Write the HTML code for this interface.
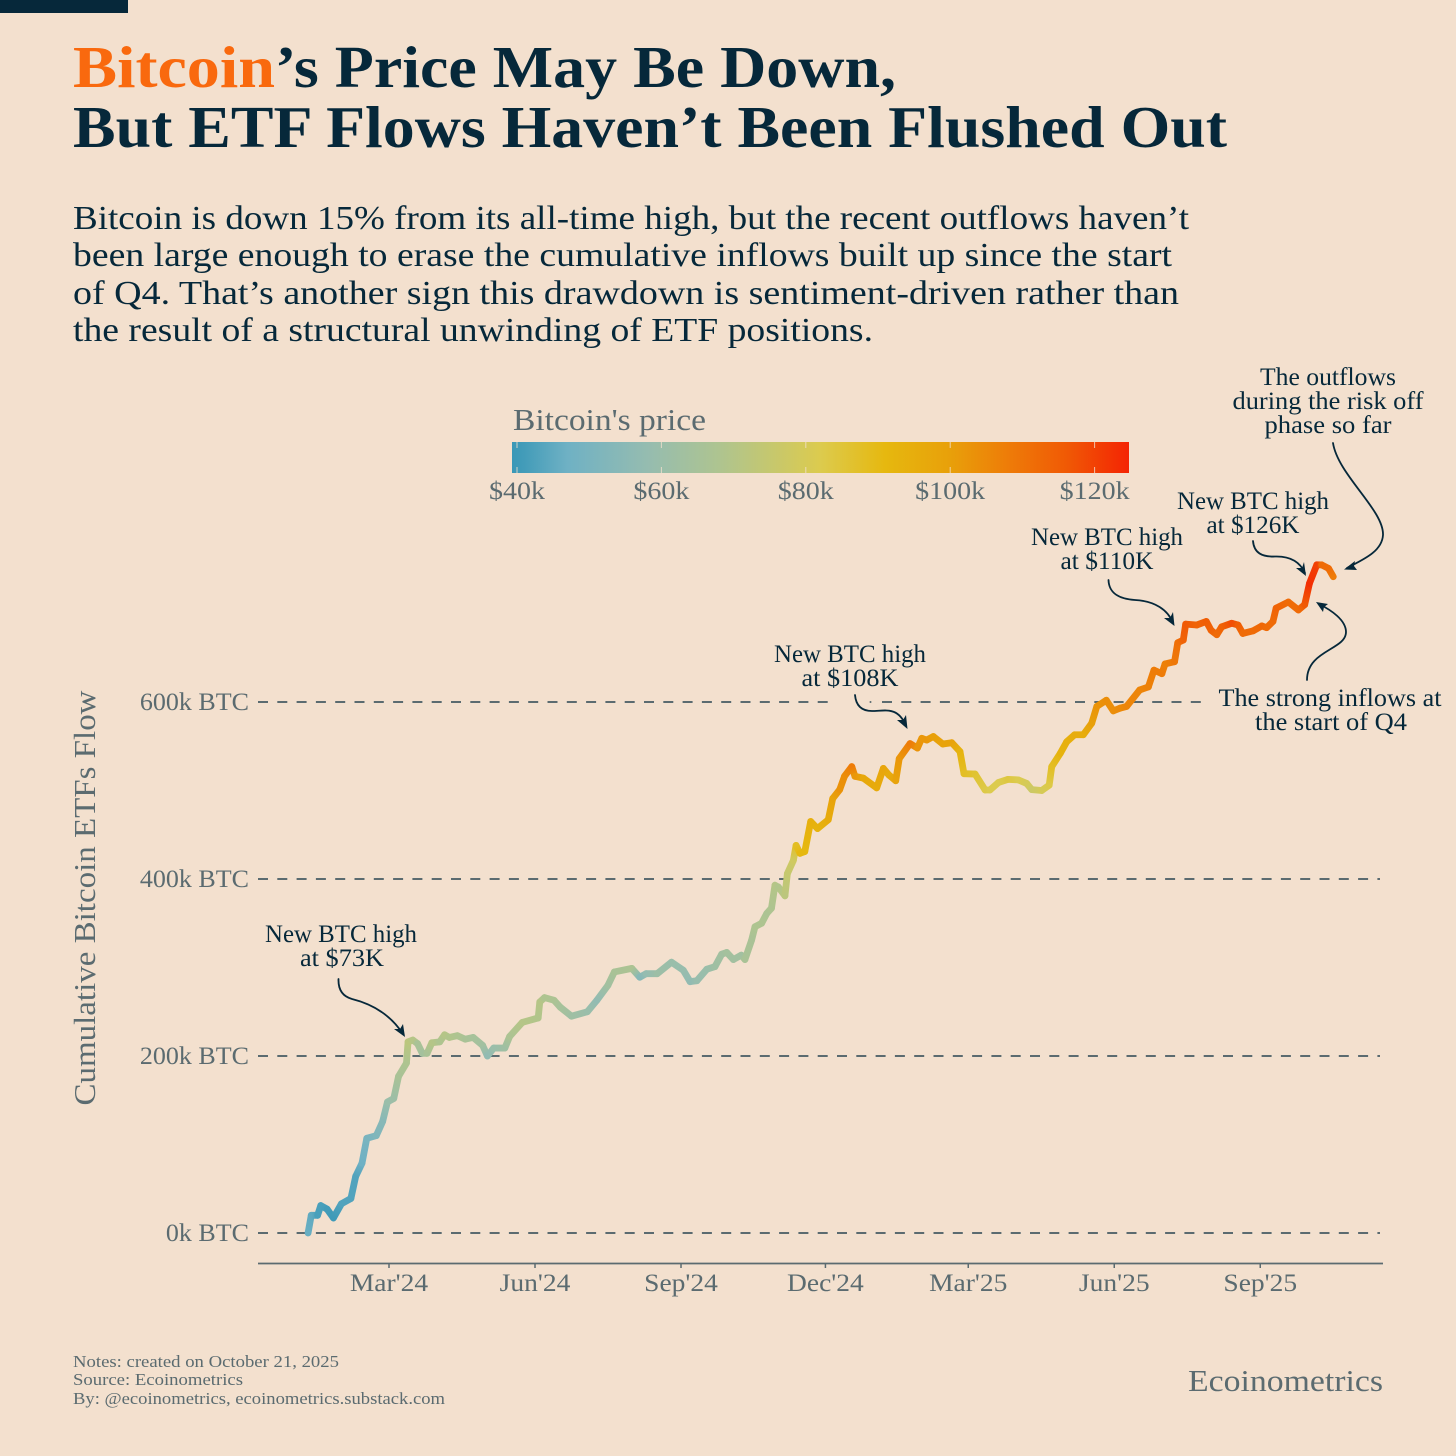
<!DOCTYPE html>
<html lang="en">
<head>
<meta charset="utf-8">
<title>Bitcoin's Price May Be Down, But ETF Flows Haven't Been Flushed Out</title>
<style>
html,body{margin:0;padding:0;background:#f3e0ce;}
svg{display:block;}
text{font-family:"Liberation Serif",serif;}
.ink{fill:#06283a;}
.grey{fill:#5b6b70;}
.note{font-size:25px;fill:#06283a;text-anchor:middle;}
.arrow{fill:none;stroke:#06283a;stroke-width:1.8;stroke-linecap:round;}
.head{fill:#06283a;}
</style>
</head>
<body>
<svg xmlns="http://www.w3.org/2000/svg" width="1456" height="1456" viewBox="0 0 1456 1456">
  <defs id="defs"><linearGradient id="colorbar-gradient" x1="512" x2="1129" y1="0" y2="0" gradientUnits="userSpaceOnUse"></linearGradient></defs>
  <rect width="1456" height="1456" fill="#f3e0ce"/>
  <rect x="0" y="0" width="128" height="13" fill="#06283a"/>

  <g font-weight="700" font-size="59">
    <text x="73" y="87" fill="#f9690e" textLength="202" lengthAdjust="spacingAndGlyphs">Bitcoin</text>
    <text x="275" y="87" class="ink" textLength="621" lengthAdjust="spacingAndGlyphs">’s Price May Be Down,</text>
    <text x="73" y="147" class="ink" textLength="1154" lengthAdjust="spacingAndGlyphs">But ETF Flows Haven’t Been Flushed Out</text>
  </g>

  <g font-size="34" class="ink">
    <text x="73" y="229" textLength="1116" lengthAdjust="spacingAndGlyphs">Bitcoin is down 15% from its all-time high, but the recent outflows haven’t</text>
    <text x="73" y="266" textLength="1099" lengthAdjust="spacingAndGlyphs">been large enough to erase the cumulative inflows built up since the start</text>
    <text x="73" y="304" textLength="1106" lengthAdjust="spacingAndGlyphs">of Q4. That’s another sign this drawdown is sentiment-driven rather than</text>
    <text x="73" y="341" textLength="800" lengthAdjust="spacingAndGlyphs">the result of a structural unwinding of ETF positions.</text>
  </g>

  <g>
    <text x="513" y="430" font-size="31" class="grey" textLength="193" lengthAdjust="spacingAndGlyphs">Bitcoin's price</text>
    <rect x="512" y="442" width="617" height="31" fill="url(#colorbar-gradient)"/>
    <g id="legend-ticks"></g>
  </g>

  <g id="grid"></g>
  <circle cx="870.5" cy="702" r="1" fill="#5b6b70"/>
  <g id="y-labels"></g>
  <text transform="translate(95,898) rotate(-90)" text-anchor="middle" font-size="31" class="grey" textLength="415" lengthAdjust="spacingAndGlyphs">Cumulative Bitcoin ETFs Flow</text>

  <line x1="258" x2="1383" y1="1263.5" y2="1263.5" stroke="#5b6b70" stroke-width="1.8"/>
  <g id="x-axis"></g>

  <g id="flow-line" fill="none"></g>

  <g>
    <text class="note" x="341" y="942" textLength="152" lengthAdjust="spacingAndGlyphs">New BTC high</text>
    <text class="note" x="342" y="966" textLength="84" lengthAdjust="spacingAndGlyphs">at $73K</text>
    <path class="arrow" d="M338.5 979 C338 992 345 997 352 999 C372 1004 390 1014 403 1034"/>
    <path class="head" d="M405 1037 L394 1029 L400 1029 L403 1024 Z"/>
  </g>
  <g>
    <text class="note" x="850" y="662" textLength="152" lengthAdjust="spacingAndGlyphs">New BTC high</text>
    <text class="note" x="850" y="686" textLength="97" lengthAdjust="spacingAndGlyphs">at $108K</text>
    <path class="arrow" d="M855 695 C856 706 862 711 872 711 C885 711 898 706 906 726"/>
    <path class="head" d="M907.5 729 L897 720 L903 720 L906 715 Z"/>
  </g>
  <g>
    <text class="note" x="1107" y="545" textLength="152" lengthAdjust="spacingAndGlyphs">New BTC high</text>
    <text class="note" x="1107" y="569" textLength="93" lengthAdjust="spacingAndGlyphs">at $110K</text>
    <path class="arrow" d="M1108.5 580 C1109 594 1120 599 1135 600 C1155 601 1168 610 1173 623"/>
    <path class="head" d="M1174.5 626 L1164 618 L1170 618 L1173 612 Z"/>
  </g>
  <g>
    <text class="note" x="1253" y="509" textLength="152" lengthAdjust="spacingAndGlyphs">New BTC high</text>
    <text class="note" x="1253" y="533" textLength="93" lengthAdjust="spacingAndGlyphs">at $126K</text>
    <path class="arrow" d="M1253 541 C1254 553 1262 557 1275 556.5 C1290 556 1300 562 1305 573"/>
    <path class="head" d="M1306 576 L1296 568 L1302 568 L1304 562 Z"/>
  </g>
  <g>
    <text class="note" x="1328" y="385" textLength="136" lengthAdjust="spacingAndGlyphs">The outflows</text>
    <text class="note" x="1328" y="409" textLength="191" lengthAdjust="spacingAndGlyphs">during the risk off</text>
    <text class="note" x="1328" y="433" textLength="127" lengthAdjust="spacingAndGlyphs">phase so far</text>
    <path class="arrow" d="M1333 443 C1338 475 1384 510 1383 535 C1382 552 1362 560 1347 568"/>
    <path class="head" d="M1344 569.5 L1355 561 L1354 566 L1357 570 Z"/>
  </g>
  <g>
    <text class="note" x="1330" y="706" textLength="223" lengthAdjust="spacingAndGlyphs">The strong inflows at</text>
    <text class="note" x="1331" y="730" textLength="152" lengthAdjust="spacingAndGlyphs">the start of Q4</text>
    <path class="arrow" d="M1307 680 C1307 650 1346 650 1346 632 C1346 620 1331 610 1319 604"/>
    <path class="head" d="M1316 602 L1328 604 L1324 607 L1323 612 Z"/>
  </g>

  <g font-size="16.5" class="grey">
    <text x="73" y="1367" textLength="266" lengthAdjust="spacingAndGlyphs">Notes: created on October 21, 2025</text>
    <text x="73" y="1385" textLength="170" lengthAdjust="spacingAndGlyphs">Source: Ecoinometrics</text>
    <text x="73" y="1404" textLength="372" lengthAdjust="spacingAndGlyphs">By: @ecoinometrics, ecoinometrics.substack.com</text>
  </g>
  <text x="1188" y="1391" font-size="31" class="grey" textLength="195" lengthAdjust="spacingAndGlyphs">Ecoinometrics</text>

<script>
// Days are counted from 1 March 2024. Values.
var flowDays = [-51,-49,-45,-43,-39,-35,-30,-24,-21,-17,-14,-8,-4,-1,3,6,11,12,15,18,21,24,27,32,35,38,43,48,53,59,62,66,73,76,84,94,95,98,104,108,115,125,131,138,142,153,158,162,169,178,185.4,189.7,194,200.2,205.4,209.6,212.8,217,222,224.3,228.5,230.6,234.8,238,241,243.2,245.3,249.5,251,254.8,256.5,259,262,265.7,270,276.8,279.6,284,287,291.6,293.6,298.9,307.3,311.5,315,319.3,321.5,328.3,333,335.7,338.8,343,349,354.6,359.8,362.3,369.3,375.6,378.7,384,390,396.5,401.8,405,411.3,416,417.6,423,427,432,437.5,442.8,446,452,456.4,460.6,464.8,473,478.5,482,487,489,495,497,500.5,502,509,515,518,521.6,524.7,531,535,538,544.6,550,553,557,559,566.7,573,577,580,584.6,587.7,592,595];
var flowBtc = [0,20,20,31,27,17,33,39,64,79,107,110,126,148,152,177,192,216,218,214,203,203,215,216,224,221,223,219,221,212,200,209,209,222,238,243,261,266,263,255,245,250,263,280,295,299,289,293,293,306,297,284,285,298,301,315,317,309,314,309,331,346,350,361,367,393,391,381,406,421,438,429,431,465,457,467,491,501,516,527,516,514,503,525,517.5,511,536,553,548,559,557,561,552.5,554,544,519,518.6,500.6,500.6,509,512.6,512,508,501,500,506,527,542,555,563,563,576,595,602,590,593,595,613.6,617,636,632,643,645.5,667,670,688,687,691,681,676,685,689,687,677.5,680.5,686,684,691,706,713,704,710,734,755,755,751,741.6];
var priceUsdK = [46,45,42,42,41,40,43,43,43,47,50,52,54,60,61,66,68,72,70,66,64,66,70,68,70,69,68,66,65,63,57,60,62,67,70,69,70,68,67,65,62,60,57,63,66,67,54,58,61,60,59,57,59,60,62,63,64,63,63,66,66,68,68,67,68,70,69,72,75,78,88,91,91,94,93,96,99,103,104,108,102,97,96,98,96,99,102,108,103,102,102,100,99,99,93,88,86,83,82,82,84,82,80,77,80,83,88,93,94,95,95,100,103,104,104,105,106,106,107,108,108,107,109,111,114,116,114,115,114,112,114,118,115,112,112,113,112,112,114,112,112,116,123,120,112,112,108];

var yTickValues = [0,200,400,600];
var yTickLabels = ["0k BTC","200k BTC","400k BTC","600k BTC"];
var xTickDays = [0,92,184,275,365,457,549];
var xTickLabels = ["Mar'24","Jun'24","Sep'24","Dec'24","Mar'25","Jun'25","Sep'25"];
var legendPrices = [40,60,80,100,120];
var legendLabels = ["$40k","$60k","$80k","$100k","$120k"];
var colorPrices = [39.3,41,47,58,68,82,91,100,108,116,124.8];
var colorValues = ["#3a98b7","#439cb9","#6fb1c4","#95bcb0","#aec490","#dccb4e","#e6b80f","#e8a00a","#ee7c08","#f05a05","#f42404"];

var NS = "http://www.w3.org/2000/svg";
function xScale(day){ return 389 + day * 1.587; }
function yScale(btc){ return 1233 - btc * 0.885; }
function legendScale(price){ return 517 + (price - 40) * 7.22; }
function hexToRgb(h){ return [parseInt(h.substr(1,2),16),parseInt(h.substr(3,2),16),parseInt(h.substr(5,2),16)]; }
function priceColor(p){
  var i = 0;
  while (i < colorPrices.length - 2 && p > colorPrices[i+1]) i++;
  var t = Math.max(0, Math.min(1, (p - colorPrices[i]) / (colorPrices[i+1] - colorPrices[i])));
  var a = hexToRgb(colorValues[i]), b = hexToRgb(colorValues[i+1]);
  return "rgb(" + Math.round(a[0]+(b[0]-a[0])*t) + "," + Math.round(a[1]+(b[1]-a[1])*t) + "," + Math.round(a[2]+(b[2]-a[2])*t) + ")";
}
function make(tag, attrs, parent){
  var el = document.createElementNS(NS, tag);
  for (var k in attrs) el.setAttribute(k, attrs[k]);
  parent.appendChild(el);
  return el;
}
function fitWidth(el, factor){
  el.setAttribute("textLength", (el.getComputedTextLength() * factor).toFixed(1));
  el.setAttribute("lengthAdjust", "spacingAndGlyphs");
}

// colorbar gradient
var grad = document.getElementById("colorbar-gradient");
colorPrices.forEach(function(p, i){
  make("stop", {offset: ((legendScale(p) - 512) / 617).toFixed(4), "stop-color": colorValues[i]}, grad);
});

// colorbar ticks
var legendGroup = document.getElementById("legend-ticks");
legendPrices.forEach(function(p, i){
  var x = legendScale(p);
  var t1 = make("line", {x1:x, x2:x, y1:442, y2:448, stroke:"#f3e0ce", "stroke-width":1, opacity:0.8}, legendGroup);
  
  
  var t2 = make("line", {x1:x, x2:x, y1:467, y2:473, stroke:"#f3e0ce", "stroke-width":1, opacity:0.8}, legendGroup);
  
  
  var lab = make("text", {x:x, y:499, "text-anchor":"middle", "font-size":25, "class":"grey"}, legendGroup);
  lab.textContent = legendLabels[i];
  
  
  fitWidth(lab, 1.12);
});

// grid and y labels
var gridGroup = document.getElementById("grid");
var yGroup = document.getElementById("y-labels");
yTickValues.forEach(function(v, i){
  var y = yScale(v);
  if (v === 600) {
    var segA = make("line", {x1:258, x2:834, y1:y, y2:y, stroke:"#5b6b70", "stroke-width":2, "stroke-dasharray":"10 9.3"}, gridGroup);
    
    
    var segB = make("line", {x1:882, x2:1204, y1:y, y2:y, stroke:"#5b6b70", "stroke-width":2, "stroke-dasharray":"10 9.3"}, gridGroup);
    
    
  } else {
    var ln = make("line", {x1:258, x2:1380, y1:y, y2:y, stroke:"#5b6b70", "stroke-width":2, "stroke-dasharray":"10 9.3"}, gridGroup);
    
    
  }
  var lab = make("text", {x:249, y:y + 8, "text-anchor":"end", "font-size":25, "class":"grey"}, yGroup);
  lab.textContent = yTickLabels[i];
  
  
  fitWidth(lab, 1.04);
});

// x axis
var xGroup = document.getElementById("x-axis");
xTickDays.forEach(function(d, i){
  var x = xScale(d);
  var tk = make("line", {x1:x, x2:x, y1:1263, y2:1268, stroke:"#5b6b70", "stroke-width":1.5}, xGroup);
  
  
  var lab = make("text", {x:x, y:1291, "text-anchor":"middle", "font-size":25, "class":"grey"}, xGroup);
  lab.textContent = xTickLabels[i];
  
  
  fitWidth(lab, 1.1);
});

// flow line: one gradient segment between each pair of readings
var lineGroup = document.getElementById("flow-line");
var defs = document.getElementById("defs");
for (var i = 0; i < flowDays.length - 1; i++) {
  var x1 = xScale(flowDays[i]), y1 = yScale(flowBtc[i]);
  var x2 = xScale(flowDays[i+1]), y2 = yScale(flowBtc[i+1]);
  var id = "seg-grad-" + i;
  var g = make("linearGradient", {id:id, gradientUnits:"userSpaceOnUse", x1:x1, y1:y1, x2:x2, y2:y2}, defs);
  make("stop", {offset:0, "stop-color":priceColor(priceUsdK[i])}, g);
  make("stop", {offset:1, "stop-color":priceColor(priceUsdK[i+1])}, g);
  var seg = make("path", {d:"M"+x1.toFixed(2)+" "+y1.toFixed(2)+" L"+(x2+0.01).toFixed(2)+" "+(y2+0.01).toFixed(2), stroke:"url(#"+id+")", "stroke-width":6.8, "stroke-linecap":"round"}, lineGroup);
  
  
}
</script>
</svg>
</body>
</html>
